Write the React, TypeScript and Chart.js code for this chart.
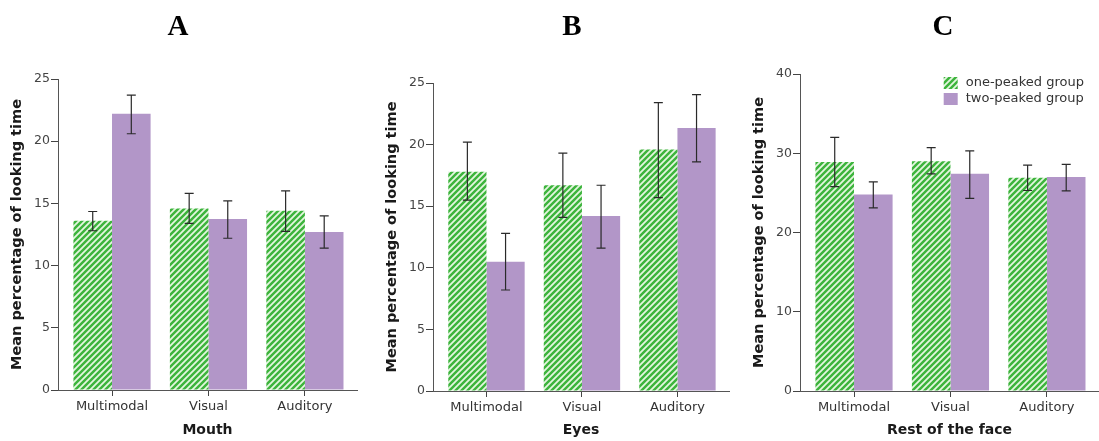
import React, { useEffect, useRef } from "react";
import { Chart, registerables } from "chart.js";

Chart.register(...registerables);

// ---------- data ----------
const categories = ["Multimodal", "Visual", "Auditory"];
const groupLabels = ["one-peaked group", "two-peaked group"];
const yAxisTitle = "Mean percentage of looking time";

// Panel A: Mouth
const mouthOne = [13.6, 14.6, 14.4];
const mouthOneLow = [12.8, 13.4, 12.75];
const mouthOneHigh = [14.35, 15.8, 16.0];
const mouthTwo = [22.2, 13.75, 12.7];
const mouthTwoLow = [20.6, 12.2, 11.4];
const mouthTwoHigh = [23.7, 15.2, 14.0];

// Panel B: Eyes
const eyesOne = [17.8, 16.7, 19.6];
const eyesOneLow = [15.5, 14.1, 15.7];
const eyesOneHigh = [20.2, 19.3, 23.4];
const eyesTwo = [10.5, 14.2, 21.35];
const eyesTwoLow = [8.2, 11.6, 18.6];
const eyesTwoHigh = [12.8, 16.7, 24.05];

// Panel C: Rest of the face
const restOne = [28.9, 29.0, 26.9];
const restOneLow = [25.8, 27.4, 25.3];
const restOneHigh = [32.0, 30.7, 28.5];
const restTwo = [24.8, 27.4, 27.0];
const restTwoLow = [23.1, 24.3, 25.25];
const restTwoHigh = [26.4, 30.3, 28.6];

// y-axis ranges / tick steps
const yMaxA = 25, yStepA = 5;
const yMaxB = 25, yStepB = 5;
const yMaxC = 40, yStepC = 10;

// ---------- styling ----------
const FONT = "'DejaVu Sans', sans-serif";
const GREEN = "#3cb43c";
const STRIPE = "#e4f6df";
const PURPLE = "#b296c8";

function makeHatch(): CanvasPattern | string {
  const c = document.createElement("canvas");
  c.width = 6;
  c.height = 6;
  const g = c.getContext("2d");
  if (!g) return GREEN;
  g.fillStyle = GREEN;
  g.fillRect(0, 0, 6, 6);
  g.strokeStyle = STRIPE;
  g.lineWidth = 1.8;
  g.beginPath();
  g.moveTo(-1, 7);
  g.lineTo(7, -1);
  g.moveTo(-4, 4);
  g.lineTo(4, -4);
  g.moveTo(2, 10);
  g.lineTo(10, 2);
  g.stroke();
  const p = g.createPattern(c, "repeat");
  return p || GREEN;
}

const errorBarPlugin = {
  id: "errorBars",
  afterDatasetsDraw(chart: any) {
    const ctx = chart.ctx;
    const ys = chart.scales.y;
    chart.data.datasets.forEach((ds: any, di: number) => {
      const meta = chart.getDatasetMeta(di);
      meta.data.forEach((el: any, i: number) => {
        const x = el.x;
        const yl = ys.getPixelForValue(ds.errLow[i]);
        const yh = ys.getPixelForValue(ds.errHigh[i]);
        ctx.save();
        ctx.strokeStyle = "#2a2a2a";
        ctx.lineWidth = 1.2;
        ctx.beginPath();
        ctx.moveTo(x, yl);
        ctx.lineTo(x, yh);
        ctx.moveTo(x - 4.5, yh);
        ctx.lineTo(x + 4.5, yh);
        ctx.moveTo(x - 4.5, yl);
        ctx.lineTo(x + 4.5, yl);
        ctx.stroke();
        ctx.restore();
      });
    });
  },
};

const cornerLegendPlugin = {
  id: "cornerLegend",
  afterDraw(chart: any) {
    const { ctx, chartArea } = chart;
    ctx.save();
    ctx.font = `13px ${FONT}`;
    const widths = chart.data.datasets.map((d: any) => ctx.measureText(d.label).width);
    const maxW = Math.max(...widths);
    const textX = chartArea.right - 15 - maxW;
    const boxX = textX - 22;
    chart.data.datasets.forEach((d: any, i: number) => {
      const cy = chartArea.top + 9 + i * 16;
      ctx.fillStyle = d.backgroundColor;
      ctx.fillRect(boxX, cy - 6, 14, 12);
      ctx.fillStyle = "#333";
      ctx.textBaseline = "middle";
      ctx.textAlign = "left";
      ctx.fillText(d.label, textX, cy);
    });
    ctx.restore();
  },
};

interface PanelCfg {
  letter: string;
  letterX: number;
  xTitle: string;
  one: number[];
  oneLow: number[];
  oneHigh: number[];
  two: number[];
  twoLow: number[];
  twoHigh: number[];
  yMax: number;
  yStep: number;
  left: number;
  width: number;
  top: number;
  xHeight: number;
  padRight: number;
  legend: boolean;
}

const panels: PanelCfg[] = [
  {
    letter: "A", letterX: 178, xTitle: "Mouth",
    one: mouthOne, oneLow: mouthOneLow, oneHigh: mouthOneHigh,
    two: mouthTwo, twoLow: mouthTwoLow, twoHigh: mouthTwoHigh,
    yMax: yMaxA, yStep: yStepA,
    left: 0, width: 370, top: 79, xHeight: 51, padRight: 13, legend: false,
  },
  {
    letter: "B", letterX: 572, xTitle: "Eyes",
    one: eyesOne, oneLow: eyesOneLow, oneHigh: eyesOneHigh,
    two: eyesTwo, twoLow: eyesTwoLow, twoHigh: eyesTwoHigh,
    yMax: yMaxB, yStep: yStepB,
    left: 375, width: 367, top: 83, xHeight: 50, padRight: 13, legend: false,
  },
  {
    letter: "C", letterX: 943, xTitle: "Rest of the face",
    one: restOne, oneLow: restOneLow, oneHigh: restOneHigh,
    two: restTwo, twoLow: restTwoLow, twoHigh: restTwoHigh,
    yMax: yMaxC, yStep: yStepC,
    left: 742, width: 357, top: 74, xHeight: 50, padRight: 0, legend: true,
  },
];

function Panel({ cfg }: { cfg: PanelCfg }) {
  const ref = useRef<HTMLCanvasElement>(null);
  useEffect(() => {
    const canvas = ref.current;
    if (!canvas) return;
    const hatch = makeHatch();
    const toPts = (arr: number[]) => arr.map((v, i) => ({ x: i + 1, y: v }));
    const chart = new Chart(canvas, {
      type: "bar",
      data: {
        datasets: [
          {
            label: groupLabels[0],
            data: toPts(cfg.one),
            backgroundColor: hatch as any,
            borderWidth: 0,
            errLow: cfg.oneLow,
            errHigh: cfg.oneHigh,
          } as any,
          {
            label: groupLabels[1],
            data: toPts(cfg.two),
            backgroundColor: PURPLE,
            borderWidth: 0,
            errLow: cfg.twoLow,
            errHigh: cfg.twoHigh,
          } as any,
        ],
      },
      options: {
        responsive: false,
        animation: false,
        devicePixelRatio: 1,
        categoryPercentage: 0.8,
        barPercentage: 1.0,
        layout: { padding: { top: cfg.top, right: cfg.padRight, left: 0, bottom: 0 } },
        plugins: {
          legend: { display: false },
          tooltip: { enabled: false },
          title: { display: false },
        },
        scales: {
          x: {
            type: "linear",
            offset: false,
            min: 0.44,
            max: 3.54,
            afterBuildTicks: (s: any) => {
              s.ticks = categories.map((_, i) => ({ value: i + 1 }));
            },
            afterFit: (s: any) => {
              s.height = cfg.xHeight;
            },
            ticks: {
              callback: (v: any) => categories[Math.round(Number(v)) - 1] ?? "",
              font: { family: FONT, size: 13 },
              color: "#333",
              padding: 3,
              maxRotation: 0,
              autoSkip: false,
              includeBounds: false,
            },
            grid: {
              offset: false,
              drawOnChartArea: false,
              drawTicks: true,
              tickLength: 6,
              tickColor: "#444",
            },
            border: { display: true, color: "#555", width: 1 },
            title: {
              display: true,
              text: cfg.xTitle,
              font: { family: FONT, size: 14, weight: "bold" },
              color: "#1a1a1a",
              padding: { top: 0, bottom: 2 },
            },
          } as any,
          y: {
            min: 0,
            max: cfg.yMax,
            afterFit: (s: any) => {
              s.width = 58;
            },
            ticks: {
              stepSize: cfg.yStep,
              font: { family: FONT, size: 12.5 },
              color: "#444",
              padding: 1,
            },
            grid: {
              drawOnChartArea: false,
              drawTicks: true,
              tickLength: 7,
              tickColor: "#444",
            },
            border: { display: true, color: "#555", width: 1 },
            title: {
              display: true,
              text: yAxisTitle,
              font: { family: FONT, size: 14.5, weight: "bold" },
              color: "#1a1a1a",
              padding: { top: 9, bottom: 0 },
            },
          } as any,
        },
      },
      plugins: cfg.legend ? [errorBarPlugin, cornerLegendPlugin] : [errorBarPlugin],
    } as any);
    return () => chart.destroy();
  }, [cfg]);

  return (
    <>
      <canvas
        ref={ref}
        width={cfg.width}
        height={441}
        style={{ position: "absolute", left: cfg.left, top: 0, width: cfg.width, height: 441 }}
      />
      <div
        style={{
          position: "absolute",
          left: cfg.letterX - 30,
          top: 9,
          width: 60,
          height: 32,
          lineHeight: "32px",
          textAlign: "center",
          fontFamily: "'Liberation Serif', 'Times New Roman', serif",
          fontWeight: "bold",
          fontSize: 29,
          color: "#000",
        }}
      >
        {cfg.letter}
      </div>
    </>
  );
}

export default function App() {
  return (
    <div
      style={{
        position: "absolute",
        left: 0,
        top: 0,
        width: 1099,
        height: 441,
        background: "#fff",
        overflow: "hidden",
      }}
    >
      {panels.map((p) => (
        <Panel key={p.letter} cfg={p} />
      ))}
    </div>
  );
}
